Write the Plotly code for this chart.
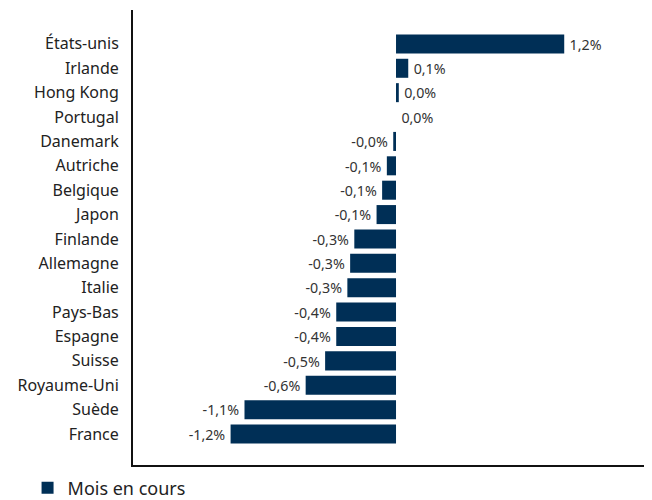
import plotly.graph_objects as go

countries = ["États-unis", "Irlande", "Hong Kong", "Portugal", "Danemark", "Autriche",
             "Belgique", "Japon", "Finlande", "Allemagne", "Italie", "Pays-Bas",
             "Espagne", "Suisse", "Royaume-Uni", "Suède", "France"]
values = [1.21, 0.088, 0.02, 0.0, -0.02, -0.066, -0.10, -0.14, -0.30, -0.33,
          -0.35, -0.43, -0.43, -0.51, -0.65, -1.09, -1.19]
labels = ["1,2%", "0,1%", "0,0%", "0,0%", "-0,0%", "-0,1%", "-0,1%", "-0,1%", "-0,3%",
          "-0,3%", "-0,3%", "-0,4%", "-0,4%", "-0,5%", "-0,6%", "-1,1%", "-1,2%"]
series_name = "Mois en cours"

# small visual padding between bar end and its label
padded = [("\u2009" + t) if v >= 0 else (t + "\u2009") for v, t in zip(values, labels)]

FONT = "Noto Sans"
fig = go.Figure(go.Bar(
    y=countries, x=values, orientation="h", name=series_name,
    marker=dict(color="#002f56", line=dict(width=0)),
    text=padded, textposition="outside", cliponaxis=False,
    textfont=dict(family=FONT, size=15, color="#333333"),
    showlegend=True,
))
fig.update_layout(
    width=652, height=500,
    margin=dict(l=125, r=10, t=2, b=43, autoexpand=False),
    plot_bgcolor="white", paper_bgcolor="white",
    bargap=0.22,
    font=dict(family=FONT, size=15, color="#333333"),
    legend=dict(orientation="h", xref="container", yref="container",
                x=0.03, xanchor="left", y=0.04, yanchor="middle",
                font=dict(family=FONT, size=18, color="#222222")),
    xaxis=dict(range=[-1.892, 1.827], showgrid=False, zeroline=False, showticklabels=False,
               showline=True, linecolor="#111111", linewidth=2, ticks=""),
    yaxis=dict(autorange=False, range=[16 + 1.27, -1.39], showgrid=False, zeroline=False,
               showline=True, linecolor="#111111", linewidth=2, ticks="",
               ticklabelstandoff=9,
               tickfont=dict(family=FONT, size=16, color="#222222")),
)
fig.write_html("out.html")
